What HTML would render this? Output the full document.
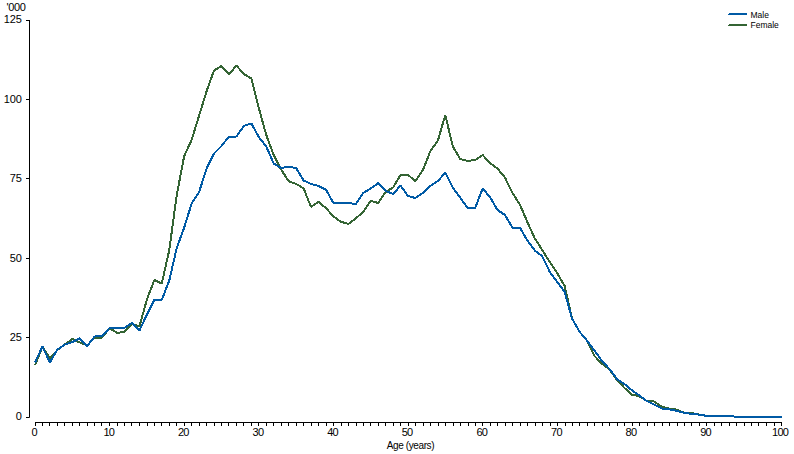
<!DOCTYPE html>
<html><head><meta charset="utf-8"><style>
html,body{margin:0;padding:0;background:#fff;}
body{width:794px;height:454px;overflow:hidden;}
svg{display:block;}
.t{font-family:"Liberation Sans",sans-serif;font-size:11px;fill:#000;letter-spacing:-0.4px;}
.xt{font-family:"Liberation Sans",sans-serif;font-size:10px;fill:#000;letter-spacing:-0.4px;}
.xl{letter-spacing:-0.75px;}
.yl{letter-spacing:-0.1px;}
.lg{font-family:"Liberation Sans",sans-serif;font-size:8.5px;fill:#000;}
</style></head><body>
<svg width="794" height="454" viewBox="0 0 794 454">
<path d="M29.5 20 V417.5" stroke="#000000" stroke-width="1" fill="none"/>
<path d="M26 417.5 H29.5" stroke="#000000" stroke-width="1"/>
<text x="21.7" y="420" text-anchor="end" class="t yl">0</text>
<path d="M26 337.5 H29.5" stroke="#000000" stroke-width="1"/>
<text x="21.7" y="341" text-anchor="end" class="t yl">25</text>
<path d="M26 258.5 H29.5" stroke="#000000" stroke-width="1"/>
<text x="21.7" y="262" text-anchor="end" class="t yl">50</text>
<path d="M26 178.5 H29.5" stroke="#000000" stroke-width="1"/>
<text x="21.7" y="182" text-anchor="end" class="t yl">75</text>
<path d="M26 99.5 H29.5" stroke="#000000" stroke-width="1"/>
<text x="21.7" y="103" text-anchor="end" class="t yl">100</text>
<path d="M26 20.5 H29.5" stroke="#000000" stroke-width="1"/>
<text x="21.7" y="23" text-anchor="end" class="t yl">125</text>
<path d="M35 422.5 H781.5" stroke="#000000" stroke-width="1" fill="none"/>
<path d="M35.5 422 V426" stroke="#000000" stroke-width="1"/>
<path d="M42.5 422 V426" stroke="#000000" stroke-width="1"/>
<path d="M49.5 422 V426" stroke="#000000" stroke-width="1"/>
<path d="M57.5 422 V426" stroke="#000000" stroke-width="1"/>
<path d="M64.5 422 V426" stroke="#000000" stroke-width="1"/>
<path d="M72.5 422 V426" stroke="#000000" stroke-width="1"/>
<path d="M79.5 422 V426" stroke="#000000" stroke-width="1"/>
<path d="M87.5 422 V426" stroke="#000000" stroke-width="1"/>
<path d="M94.5 422 V426" stroke="#000000" stroke-width="1"/>
<path d="M101.5 422 V426" stroke="#000000" stroke-width="1"/>
<path d="M109.5 422 V426" stroke="#000000" stroke-width="1"/>
<path d="M117.5 422 V426" stroke="#000000" stroke-width="1"/>
<path d="M124.5 422 V426" stroke="#000000" stroke-width="1"/>
<path d="M131.5 422 V426" stroke="#000000" stroke-width="1"/>
<path d="M139.5 422 V426" stroke="#000000" stroke-width="1"/>
<path d="M147.5 422 V426" stroke="#000000" stroke-width="1"/>
<path d="M154.5 422 V426" stroke="#000000" stroke-width="1"/>
<path d="M161.5 422 V426" stroke="#000000" stroke-width="1"/>
<path d="M169.5 422 V426" stroke="#000000" stroke-width="1"/>
<path d="M176.5 422 V426" stroke="#000000" stroke-width="1"/>
<path d="M184.5 422 V426" stroke="#000000" stroke-width="1"/>
<path d="M191.5 422 V426" stroke="#000000" stroke-width="1"/>
<path d="M199.5 422 V426" stroke="#000000" stroke-width="1"/>
<path d="M206.5 422 V426" stroke="#000000" stroke-width="1"/>
<path d="M214.5 422 V426" stroke="#000000" stroke-width="1"/>
<path d="M221.5 422 V426" stroke="#000000" stroke-width="1"/>
<path d="M228.5 422 V426" stroke="#000000" stroke-width="1"/>
<path d="M236.5 422 V426" stroke="#000000" stroke-width="1"/>
<path d="M243.5 422 V426" stroke="#000000" stroke-width="1"/>
<path d="M251.5 422 V426" stroke="#000000" stroke-width="1"/>
<path d="M258.5 422 V426" stroke="#000000" stroke-width="1"/>
<path d="M266.5 422 V426" stroke="#000000" stroke-width="1"/>
<path d="M273.5 422 V426" stroke="#000000" stroke-width="1"/>
<path d="M281.5 422 V426" stroke="#000000" stroke-width="1"/>
<path d="M288.5 422 V426" stroke="#000000" stroke-width="1"/>
<path d="M296.5 422 V426" stroke="#000000" stroke-width="1"/>
<path d="M303.5 422 V426" stroke="#000000" stroke-width="1"/>
<path d="M311.5 422 V426" stroke="#000000" stroke-width="1"/>
<path d="M318.5 422 V426" stroke="#000000" stroke-width="1"/>
<path d="M326.5 422 V426" stroke="#000000" stroke-width="1"/>
<path d="M333.5 422 V426" stroke="#000000" stroke-width="1"/>
<path d="M341.5 422 V426" stroke="#000000" stroke-width="1"/>
<path d="M348.5 422 V426" stroke="#000000" stroke-width="1"/>
<path d="M356.5 422 V426" stroke="#000000" stroke-width="1"/>
<path d="M363.5 422 V426" stroke="#000000" stroke-width="1"/>
<path d="M370.5 422 V426" stroke="#000000" stroke-width="1"/>
<path d="M378.5 422 V426" stroke="#000000" stroke-width="1"/>
<path d="M385.5 422 V426" stroke="#000000" stroke-width="1"/>
<path d="M393.5 422 V426" stroke="#000000" stroke-width="1"/>
<path d="M400.5 422 V426" stroke="#000000" stroke-width="1"/>
<path d="M408.5 422 V426" stroke="#000000" stroke-width="1"/>
<path d="M415.5 422 V426" stroke="#000000" stroke-width="1"/>
<path d="M423.5 422 V426" stroke="#000000" stroke-width="1"/>
<path d="M430.5 422 V426" stroke="#000000" stroke-width="1"/>
<path d="M438.5 422 V426" stroke="#000000" stroke-width="1"/>
<path d="M445.5 422 V426" stroke="#000000" stroke-width="1"/>
<path d="M453.5 422 V426" stroke="#000000" stroke-width="1"/>
<path d="M460.5 422 V426" stroke="#000000" stroke-width="1"/>
<path d="M468.5 422 V426" stroke="#000000" stroke-width="1"/>
<path d="M475.5 422 V426" stroke="#000000" stroke-width="1"/>
<path d="M482.5 422 V426" stroke="#000000" stroke-width="1"/>
<path d="M490.5 422 V426" stroke="#000000" stroke-width="1"/>
<path d="M497.5 422 V426" stroke="#000000" stroke-width="1"/>
<path d="M505.5 422 V426" stroke="#000000" stroke-width="1"/>
<path d="M512.5 422 V426" stroke="#000000" stroke-width="1"/>
<path d="M520.5 422 V426" stroke="#000000" stroke-width="1"/>
<path d="M527.5 422 V426" stroke="#000000" stroke-width="1"/>
<path d="M535.5 422 V426" stroke="#000000" stroke-width="1"/>
<path d="M542.5 422 V426" stroke="#000000" stroke-width="1"/>
<path d="M550.5 422 V426" stroke="#000000" stroke-width="1"/>
<path d="M557.5 422 V426" stroke="#000000" stroke-width="1"/>
<path d="M565.5 422 V426" stroke="#000000" stroke-width="1"/>
<path d="M572.5 422 V426" stroke="#000000" stroke-width="1"/>
<path d="M579.5 422 V426" stroke="#000000" stroke-width="1"/>
<path d="M587.5 422 V426" stroke="#000000" stroke-width="1"/>
<path d="M594.5 422 V426" stroke="#000000" stroke-width="1"/>
<path d="M602.5 422 V426" stroke="#000000" stroke-width="1"/>
<path d="M609.5 422 V426" stroke="#000000" stroke-width="1"/>
<path d="M617.5 422 V426" stroke="#000000" stroke-width="1"/>
<path d="M624.5 422 V426" stroke="#000000" stroke-width="1"/>
<path d="M632.5 422 V426" stroke="#000000" stroke-width="1"/>
<path d="M639.5 422 V426" stroke="#000000" stroke-width="1"/>
<path d="M647.5 422 V426" stroke="#000000" stroke-width="1"/>
<path d="M654.5 422 V426" stroke="#000000" stroke-width="1"/>
<path d="M662.5 422 V426" stroke="#000000" stroke-width="1"/>
<path d="M669.5 422 V426" stroke="#000000" stroke-width="1"/>
<path d="M677.5 422 V426" stroke="#000000" stroke-width="1"/>
<path d="M684.5 422 V426" stroke="#000000" stroke-width="1"/>
<path d="M691.5 422 V426" stroke="#000000" stroke-width="1"/>
<path d="M699.5 422 V426" stroke="#000000" stroke-width="1"/>
<path d="M706.5 422 V426" stroke="#000000" stroke-width="1"/>
<path d="M714.5 422 V426" stroke="#000000" stroke-width="1"/>
<path d="M721.5 422 V426" stroke="#000000" stroke-width="1"/>
<path d="M729.5 422 V426" stroke="#000000" stroke-width="1"/>
<path d="M736.5 422 V426" stroke="#000000" stroke-width="1"/>
<path d="M744.5 422 V426" stroke="#000000" stroke-width="1"/>
<path d="M751.5 422 V426" stroke="#000000" stroke-width="1"/>
<path d="M758.5 422 V426" stroke="#000000" stroke-width="1"/>
<path d="M766.5 422 V426" stroke="#000000" stroke-width="1"/>
<path d="M774.5 422 V426" stroke="#000000" stroke-width="1"/>
<path d="M781.5 422 V426" stroke="#000000" stroke-width="1"/>
<text x="34.1" y="436" text-anchor="middle" class="t xl">0</text>
<text x="108.8" y="436" text-anchor="middle" class="t xl">10</text>
<text x="183.3" y="436" text-anchor="middle" class="t xl">20</text>
<text x="257.9" y="436" text-anchor="middle" class="t xl">30</text>
<text x="332.5" y="436" text-anchor="middle" class="t xl">40</text>
<text x="407.1" y="436" text-anchor="middle" class="t xl">50</text>
<text x="481.8" y="436" text-anchor="middle" class="t xl">60</text>
<text x="556.4" y="436" text-anchor="middle" class="t xl">70</text>
<text x="630.9" y="436" text-anchor="middle" class="t xl">80</text>
<text x="705.5" y="436" text-anchor="middle" class="t xl">90</text>
<text x="780.1" y="436" text-anchor="middle" class="t xl">100</text>
<text x="410.5" y="448.5" text-anchor="middle" class="xt">Age (years)</text>
<text x="6.5" y="11" class="t">'000</text>
<polyline points="35.00,365.00 42.46,347.00 49.92,358.00 57.38,350.00 64.84,344.50 72.30,339.00 79.76,342.50 87.22,345.50 94.68,337.50 102.14,337.50 109.60,328.20 117.06,332.90 124.52,331.90 131.98,323.60 139.44,326.50 146.90,299.50 154.36,280.00 161.82,283.50 169.28,250.00 176.74,195.00 184.20,156.00 191.66,139.80 199.12,115.60 206.58,91.30 214.04,70.40 221.50,66.00 228.96,74.50 236.42,65.60 243.88,74.00 251.34,78.50 258.80,108.00 266.26,135.00 273.72,155.20 281.18,169.60 288.64,181.20 296.10,183.90 303.56,188.30 311.02,207.00 318.48,201.90 325.94,208.10 333.40,216.50 340.86,221.70 348.32,223.90 355.78,218.40 363.24,211.80 370.70,200.70 378.16,203.00 385.62,191.90 393.08,187.50 400.54,175.00 408.00,175.00 415.46,181.00 422.92,170.00 430.38,151.10 437.84,140.70 445.30,115.00 452.76,146.30 460.22,159.00 467.68,161.00 475.14,160.00 482.60,155.00 490.06,163.00 497.52,168.50 504.98,177.60 512.44,193.00 519.90,204.50 527.36,222.00 534.82,238.50 542.28,250.00 549.74,262.00 557.20,273.00 564.66,286.00 572.12,318.80 579.58,331.80 587.04,340.60 594.50,356.00 601.96,363.70 609.42,369.30 616.88,380.00 624.34,387.80 631.80,394.70 639.26,396.20 646.72,401.00 654.18,401.50 661.64,406.80 669.10,408.60 676.56,409.60 684.02,412.60 691.48,413.00 698.94,414.50 706.40,415.80 713.86,415.80 721.32,415.80 728.78,416.10 736.24,416.70 743.70,416.70 751.16,416.70 758.62,416.70 766.08,416.70 773.54,416.70 782.00,416.70" fill="none" stroke="#346434" stroke-width="2" stroke-linejoin="bevel" shape-rendering="crispEdges"/>
<polyline points="35.00,362.50 42.46,346.50 49.92,362.50 57.38,349.50 64.84,344.50 72.30,342.00 79.76,338.30 87.22,346.00 94.68,336.50 102.14,336.20 109.60,327.80 117.06,327.80 124.52,327.80 131.98,323.00 139.44,330.50 146.90,314.50 154.36,299.70 161.82,299.70 169.28,280.50 176.74,248.00 184.20,227.50 191.66,203.50 199.12,192.00 206.58,168.50 214.04,153.50 221.50,146.00 228.96,136.50 236.42,136.50 243.88,126.00 251.34,123.30 258.80,137.00 266.26,146.50 273.72,163.50 281.18,168.00 288.64,166.80 296.10,168.00 303.56,180.50 311.02,183.90 318.48,186.00 325.94,189.60 333.40,203.00 340.86,203.00 348.32,203.00 355.78,204.00 363.24,193.00 370.70,188.60 378.16,183.10 385.62,190.80 393.08,194.10 400.54,185.50 408.00,196.00 415.46,198.00 422.92,193.00 430.38,186.00 437.84,181.00 445.30,172.70 452.76,187.70 460.22,197.70 467.68,208.00 475.14,208.00 482.60,188.60 490.06,197.00 497.52,210.00 504.98,215.00 512.44,227.80 519.90,227.70 527.36,240.60 534.82,250.50 542.28,256.30 549.74,271.80 557.20,282.00 564.66,292.00 572.12,318.80 579.58,331.80 587.04,340.60 594.50,350.50 601.96,361.00 609.42,369.00 616.88,379.00 624.34,384.00 631.80,390.20 639.26,395.50 646.72,401.00 654.18,404.50 661.64,408.50 669.10,409.30 676.56,410.90 684.02,412.80 691.48,413.80 698.94,414.60 706.40,415.80 713.86,415.80 721.32,415.80 728.78,416.10 736.24,416.70 743.70,416.70 751.16,416.70 758.62,416.70 766.08,416.70 773.54,416.70 782.00,416.70" fill="none" stroke="#005AA5" stroke-width="2" stroke-linejoin="bevel" shape-rendering="crispEdges"/>
<path d="M729 14 H747" stroke="#005AA5" stroke-width="2"/><rect x="728" y="14" width="1" height="1" fill="#005AA5"/>
<path d="M729 25 H747" stroke="#346434" stroke-width="2"/><rect x="728" y="25" width="1" height="1" fill="#346434"/>
<text x="750.5" y="17.5" class="lg">Male</text>
<text x="750.5" y="28.4" class="lg">Female</text>
</svg>
</body></html>
